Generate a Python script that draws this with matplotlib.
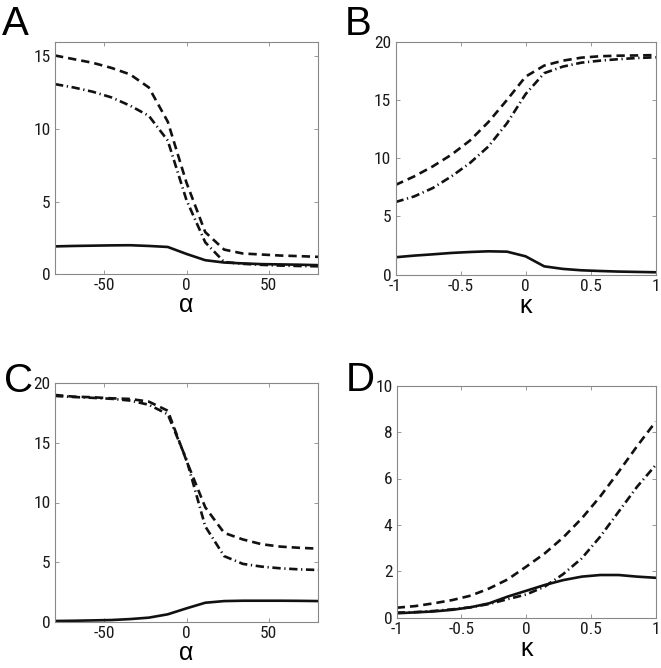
import matplotlib
matplotlib.use("Agg")
import matplotlib.pyplot as plt
from matplotlib import font_manager

# ---------------- data ----------------
alpha = [-80, -68.6, -57.1, -45.7, -34.3, -22.9, -11.4, 0, 11.4, 22.9, 34.3, 45.7, 57.1, 68.6, 80]
kappa = [-1, -0.857, -0.714, -0.571, -0.429, -0.286, -0.143, 0, 0.143, 0.286, 0.429, 0.571, 0.714, 0.857, 1]

A_dashed  = [15.05, 14.8, 14.55, 14.2, 13.75, 12.85, 10.5, 6.3, 2.9, 1.7, 1.43, 1.36, 1.29, 1.25, 1.2]
A_dashdot = [13.08, 12.85, 12.56, 12.17, 11.6, 10.9, 9.2, 5.1, 2.2, 0.85, 0.72, 0.65, 0.6, 0.57, 0.55]
A_solid   = [1.92, 1.95, 1.97, 1.99, 2.0, 1.95, 1.88, 1.4, 0.97, 0.81, 0.75, 0.70, 0.68, 0.66, 0.63]

B_dashed  = [7.7, 8.43, 9.29, 10.29, 11.5, 13.1, 15.0, 17.0, 17.95, 18.37, 18.63, 18.75, 18.8, 18.82, 18.85]
B_dashdot = [6.23, 6.71, 7.43, 8.43, 9.57, 11.0, 13.0, 15.5, 17.3, 17.86, 18.2, 18.37, 18.5, 18.6, 18.66]
B_solid   = [1.49, 1.63, 1.74, 1.86, 1.94, 2.0, 1.97, 1.57, 0.71, 0.49, 0.37, 0.31, 0.26, 0.23, 0.2]

C_dashed  = [19.02, 18.88, 18.83, 18.74, 18.69, 18.46, 17.7, 13.5, 9.6, 7.45, 6.9, 6.5, 6.3, 6.2, 6.13]
C_dashdot = [18.94, 18.85, 18.78, 18.7, 18.55, 18.2, 17.4, 13.6, 8.0, 5.5, 4.85, 4.62, 4.48, 4.39, 4.34]
C_solid   = [0.06, 0.08, 0.11, 0.14, 0.22, 0.34, 0.62, 1.12, 1.59, 1.73, 1.76, 1.76, 1.76, 1.75, 1.73]

D_dashed  = [0.43, 0.5, 0.62, 0.76, 0.95, 1.26, 1.65, 2.2, 2.77, 3.46, 4.28, 5.22, 6.29, 7.4, 8.45]
D_dashdot = [0.22, 0.24, 0.29, 0.36, 0.45, 0.59, 0.8, 1.0, 1.34, 1.88, 2.56, 3.49, 4.57, 5.65, 6.58]
D_solid   = [0.19, 0.23, 0.27, 0.34, 0.45, 0.62, 0.91, 1.16, 1.41, 1.62, 1.77, 1.84, 1.84, 1.77, 1.72]

A_yticks = [0, 5, 10, 15]
BC_yticks = [0, 5, 10, 15, 20]
D_yticks = [0, 2, 4, 6, 8, 10]
alpha_xticks = [-50, 0, 50]
kappa_xticks = [-1, -0.5, 0, 0.5, 1]
kappa_xticklabels = ["-1", "-0.5", "0", "0.5", "1"]

# ---------------- fonts ----------------
avail = {f.name for f in font_manager.fontManager.ttflist}
narrow = None
for cand in ["Liberation Sans Narrow", "DejaVu Sans Condensed", "Roboto Condensed",
             "Open Sans Condensed", "Noto Sans Display"]:
    if cand in avail:
        narrow = cand
        break
if narrow is None:
    narrow = "Roboto" if "Roboto" in avail else "DejaVu Sans"
main_font = "Liberation Sans"
plt.rcParams["lines.scale_dashes"] = False

fig = plt.figure(figsize=(6.61, 6.68), dpi=100)

W, H = 661.0, 668.0
def rect(l, t, r, b):
    return [l / W, 1 - b / H, (r - l) / W, (b - t) / H]

axA = fig.add_axes(rect(55, 41.7, 318, 274.3))
axB = fig.add_axes(rect(395.5, 41.7, 655.7, 274.6))
axC = fig.add_axes(rect(55, 383.3, 318, 621.7))
axD = fig.add_axes(rect(396.7, 385.7, 655.7, 617.7))

lw = 1.9
dash = (0, (6.0, 3.6))
dashdot = (0, (6.0, 2.6, 0.9, 2.6))

def draw(ax, x, d, dd, s, xlim, ylim, xt, xtl, yt, xlabel):
    ax.plot(x, s, color="#111111", lw=lw, ls="-", solid_joinstyle="round")
    ax.plot(x, dd, color="#111111", lw=lw, ls=dashdot)
    ax.plot(x, d, color="#111111", lw=lw, ls=dash)
    ax.set_xlim(*xlim)
    ax.set_ylim(*ylim)
    ax.set_xticks(xt)
    ax.set_xticklabels(xtl)
    ax.set_yticks(yt)
    ax.set_yticklabels([str(v) for v in yt])
    ax.tick_params(direction="in", length=3, width=0.6, color="#888888",
                   top=True, right=True, pad=3, labelsize=12.5, labelcolor="#1a1a1a")
    for lab in ax.get_xticklabels() + ax.get_yticklabels():
        lab.set_fontfamily(narrow)
        lab.set_fontstretch("condensed")
    for sp in ax.spines.values():
        sp.set_color("#888888")
        sp.set_linewidth(0.8)
    ax.set_xlabel(xlabel, fontsize=18, family=[main_font, "DejaVu Sans"], labelpad=0)

draw(axA, alpha, A_dashed, A_dashdot, A_solid, (-80, 80), (0, 16),
     alpha_xticks, [str(v) for v in alpha_xticks], A_yticks, "α")
draw(axB, kappa, B_dashed, B_dashdot, B_solid, (-1, 1), (0, 20),
     kappa_xticks, kappa_xticklabels, BC_yticks, "κ")
draw(axC, alpha, C_dashed, C_dashdot, C_solid, (-80, 80), (0, 20),
     alpha_xticks, [str(v) for v in alpha_xticks], BC_yticks, "α")
draw(axD, kappa, D_dashed, D_dashdot, D_solid, (-1, 1), (0, 10),
     kappa_xticks, kappa_xticklabels, D_yticks, "κ")

# panel letters
for letter, x, y in [("A", 2, 35), ("B", 345, 35), ("C", 4, 392), ("D", 346, 391)]:
    fig.text(x / W, 1 - y / H, letter, fontsize=29, family=main_font,
             ha="left", va="baseline", color="black")

fig.savefig("out.png", dpi=100)
